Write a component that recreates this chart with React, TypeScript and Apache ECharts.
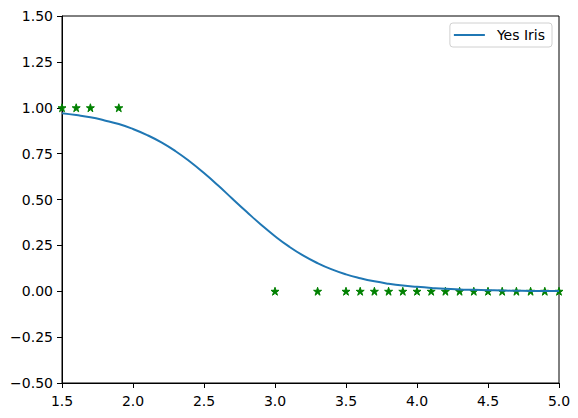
import React, { useEffect, useRef } from "react";
import * as echarts from "echarts";

const curveX = [1.5, 1.6, 1.7, 1.8, 1.9, 2.0, 2.1, 2.2, 2.3, 2.4, 2.5, 2.6, 2.7, 2.8, 2.9, 3.0, 3.1, 3.2, 3.3, 3.4, 3.5, 3.6, 3.7, 3.8, 3.9, 4.0, 4.1, 4.2, 4.3, 4.4, 4.5, 4.6, 4.7, 4.8, 4.9, 5.0];
const curveY = [0.970, 0.960, 0.948, 0.931, 0.911, 0.884, 0.851, 0.811, 0.763, 0.707, 0.644, 0.576, 0.504, 0.433, 0.364, 0.300, 0.243, 0.194, 0.153, 0.119, 0.092, 0.071, 0.054, 0.041, 0.031, 0.024, 0.018, 0.013, 0.010, 0.008, 0.006, 0.004, 0.003, 0.002, 0.002, 0.001];

const yesX = [1.5, 1.6, 1.7, 1.9];
const noX = [3.0, 3.3, 3.5, 3.6, 3.7, 3.8, 3.9, 4.0, 4.1, 4.2, 4.3, 4.4, 4.5, 4.6, 4.7, 4.8, 4.9, 5.0];
const yesValue = 1;
const noValue = 0;

const seriesName = "Yes Iris";

const STAR =
  "path://M0,-1 L0.2245,-0.309 L0.951,-0.309 L0.363,0.118 L0.588,0.809 L0,0.382 L-0.588,0.809 L-0.363,0.118 L-0.951,-0.309 L-0.2245,-0.309 Z";

export default function App() {
  const ref = useRef<HTMLDivElement>(null);
  useEffect(() => {
    if (!ref.current) return;
    const chart = echarts.init(ref.current, null, { renderer: "svg" });
    const font = "DejaVu Sans";
    const pts = [
      ...yesX.map((x) => [x, yesValue]),
      ...noX.map((x) => [x, noValue]),
    ];
    chart.setOption({
      animation: false,
      textStyle: { fontFamily: font },
      grid: {
        left: 62,
        right: 19,
        top: 16,
        bottom: 35,
        show: true,
        borderColor: "#000",
        borderWidth: 1,
        backgroundColor: "transparent",
      },
      legend: {
        data: [{ name: seriesName, icon: "rect" }],
        right: 26,
        top: 23,
        itemWidth: 31,
        itemHeight: 2,
        padding: [4, 7, 4, 4],
        borderColor: "#d0d0d0",
        borderWidth: 1,
        borderRadius: 3,
        textStyle: {
          fontFamily: font,
          fontSize: 14,
          color: "#000",
          lineHeight: 16,
          padding: [0, 0, 0, 7],
        },
      },
      xAxis: {
        type: "value",
        min: 1.5,
        max: 5.0,
        interval: 0.5,
        splitLine: { show: false },
        axisLine: { show: true, onZero: false, lineStyle: { color: "#000", width: 1 } },
        axisTick: { show: true, length: 5, lineStyle: { color: "#000" } },
        axisLabel: {
          color: "#000",
          fontSize: 14,
          fontFamily: font,
          margin: 11,
          formatter: (v: number) => v.toFixed(1),
        },
      },
      yAxis: {
        type: "value",
        min: -0.5,
        max: 1.5,
        interval: 0.25,
        splitLine: { show: false },
        axisLine: { show: true, onZero: false, lineStyle: { color: "#000", width: 1 } },
        axisTick: { show: true, length: 5, lineStyle: { color: "#000" } },
        axisLabel: {
          color: "#000",
          fontSize: 14,
          fontFamily: font,
          margin: 9,
          formatter: (v: number) =>
            v < 0 ? "\u2212" + Math.abs(v).toFixed(2) : v.toFixed(2),
        },
      },
      series: [
        {
          type: "scatter",
          name: "points",
          data: pts,
          symbol: STAR,
          symbolSize: 8,
          itemStyle: { color: "#008000", opacity: 1, borderColor: "#008000", borderWidth: 1 },
          z: 2,
        },
        {
          type: "line",
          name: seriesName,
          data: curveX.map((x, i) => [x, curveY[i]]),
          smooth: true,
          showSymbol: false,
          lineStyle: { color: "#1f77b4", width: 2 },
          itemStyle: { color: "#1f77b4" },
          z: 3,
        },
      ],
    });
    return () => chart.dispose();
  }, []);
  return (
    <div
      ref={ref}
      style={{ position: "fixed", left: 0, top: 0, width: 578, height: 418, background: "#fff" }}
    />
  );
}
